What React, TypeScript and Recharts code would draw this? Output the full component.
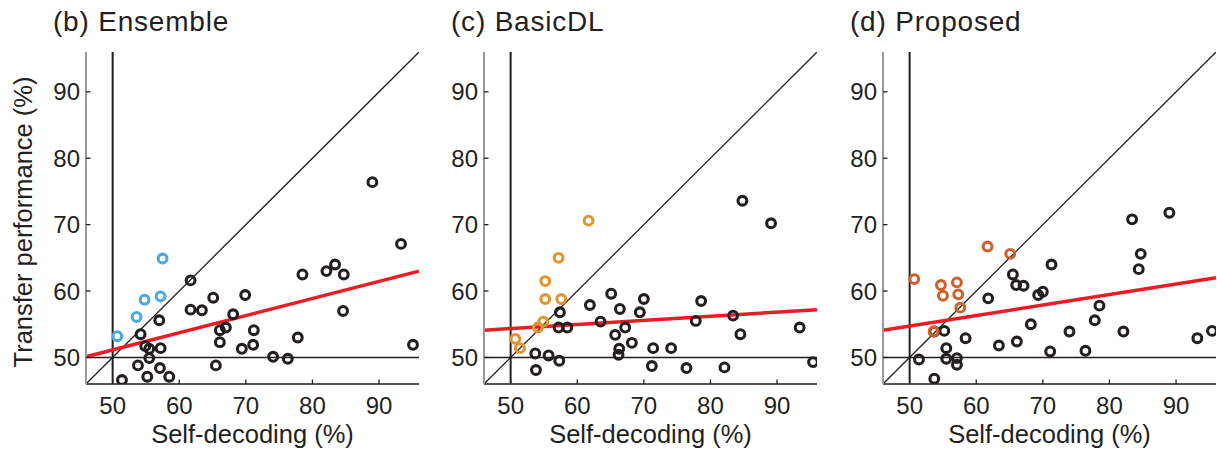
import { ScatterChart, Scatter, XAxis, YAxis, ReferenceLine } from 'recharts'

// [self-decoding, transfer] pairs
const ensembleBlack: [number, number][] = [
  [51.4, 46.6], [53.8, 48.8], [54.2, 53.5], [54.9, 51.7], [55.5, 51.3], [55.5, 49.9], [55.2, 47.1],
  [57.0, 55.6], [57.2, 51.4], [57.1, 48.4], [58.5, 47.1], [61.7, 61.6], [61.7, 57.2], [63.4, 57.1],
  [65.1, 59.0], [65.5, 48.8], [66.1, 54.1], [66.1, 52.3], [67.0, 54.5], [68.1, 56.5], [69.4, 51.3],
  [69.9, 59.4], [71.1, 51.9], [71.2, 54.1], [74.1, 50.1], [76.3, 49.8], [77.8, 53.0], [78.5, 62.5],
  [82.1, 63.0], [83.4, 64.0], [84.7, 62.5], [84.6, 57.0], [89.0, 76.4], [93.3, 67.1], [95.1, 51.9],
]
const ensembleHighlight: [number, number][] = [
  [50.7, 53.2], [53.6, 56.1], [54.8, 58.7], [57.2, 59.2], [57.5, 64.9],
]

const basicBlack: [number, number][] = [
  [84.8, 73.6], [89.1, 70.2], [65.1, 59.6], [70.0, 58.8], [78.6, 58.5], [61.9, 57.9], [66.4, 57.3],
  [57.4, 56.8], [69.4, 56.8], [83.4, 56.3], [63.5, 55.4], [77.8, 55.5], [57.2, 54.5], [58.5, 54.5],
  [67.2, 54.5], [93.4, 54.5], [65.7, 53.4], [84.5, 53.5], [68.2, 52.2], [71.4, 51.4], [74.1, 51.4],
  [66.3, 51.3], [66.2, 50.4], [53.7, 50.6], [55.7, 50.3], [57.3, 49.5], [53.8, 48.1], [71.2, 48.7],
  [76.4, 48.4], [82.1, 48.5], [95.4, 49.3],
]
const basicHighlight: [number, number][] = [
  [61.7, 70.6], [57.2, 65.0], [55.2, 61.5], [55.2, 58.8], [57.6, 58.8], [54.9, 55.4], [54.1, 54.5],
  [50.7, 52.8], [51.4, 51.4],
]

const proposedBlack: [number, number][] = [
  [89.0, 71.8], [83.4, 70.8], [84.7, 65.6], [84.4, 63.3], [71.3, 64.0], [65.5, 62.5], [66.0, 60.9],
  [67.1, 60.8], [70.0, 59.9], [69.3, 59.4], [61.8, 58.9], [78.5, 57.8], [77.8, 55.6], [68.2, 55.0],
  [74.0, 53.9], [82.1, 53.9], [95.4, 54.0], [93.2, 52.9], [55.2, 54.0], [53.7, 53.9], [58.4, 52.9],
  [63.4, 51.8], [66.1, 52.4], [55.5, 51.4], [55.5, 49.8], [57.1, 49.9], [57.1, 48.9], [51.4, 49.7],
  [53.7, 46.8], [71.1, 50.9], [76.4, 51.0],
]
const proposedHighlight: [number, number][] = [
  [50.7, 61.8], [61.7, 66.7], [65.1, 65.6], [54.7, 60.9], [55.0, 59.3], [57.1, 61.3], [57.3, 59.5],
  [57.6, 57.5], [53.6, 53.9],
]

// regression line: transfer value at x = 46 and x = 96
const fitEnsemble = [50.1, 63.0]
const fitBasic = [54.1, 57.2]
const fitProposed = [54.1, 62.0]

const ticks = [50, 60, 70, 80, 90]
const domain: [number, number] = [46, 96]

const FONT = '"Liberation Sans", Arial, Helvetica, sans-serif'
const INK = '#231f20'

const toRows = (pts: [number, number][]) => pts.map(([x, y]) => ({ x, y }))

const ring = (color: string) => (p: any) =>
  <circle cx={p.cx} cy={p.cy} r={4.4} fill="none" stroke={color} strokeWidth={3.1} />

const XTick = (p: any) => (
  <g>
    <line x1={p.x} x2={p.x} y1={p.y - 13} y2={p.y - 17.5} stroke={INK} strokeWidth={1.3} />
    <text x={p.x} y={p.y} dy="0.71em" textAnchor="middle" fontSize={24} fontFamily={FONT} fill={INK}>
      {p.payload.value}
    </text>
  </g>
)

const YTick = (p: any) => (
  <g>
    <line x1={p.x + 6} x2={p.x + 10.5} y1={p.y} y2={p.y} stroke={INK} strokeWidth={1.3} />
    <text x={p.x} y={p.y} dy="0.355em" textAnchor="end" fontSize={24} fontFamily={FONT} fill={INK}>
      {p.payload.value}
    </text>
  </g>
)

const xTitle = () => (
  <text x={252.5} y={443} textAnchor="middle" fontSize={25.5} fontFamily={FONT} fill={INK}>
    Self-decoding (%)
  </text>
)

const yTitle = () => (
  <text x={32} y={222} transform="rotate(-90 32 222)" textAnchor="middle" fontSize={25.5} fontFamily={FONT} fill={INK}>
    Transfer performance (%)
  </text>
)

function Panel({ left, title, black, highlight, color, fit, showYTitle }: {
  left: number
  title: string
  black: [number, number][]
  highlight: [number, number][]
  color: string
  fit: number[]
  showYTitle?: boolean
}) {
  return (
    <div style={{ position: 'absolute', left, top: 0, width: 420, height: 452 }}>
      <div style={{ position: 'absolute', left: 53, top: 8, fontSize: 28, lineHeight: '28px', letterSpacing: 0.8, fontFamily: FONT, color: INK, whiteSpace: 'nowrap' }}>
        {title}
      </div>
      <ScatterChart width={420} height={452} margin={{ top: 52, right: 1, bottom: 0, left: 26 }}>
        <XAxis type="number" dataKey="x" domain={domain} ticks={ticks} allowDataOverflow
          height={68} tickSize={0} tickMargin={13} tick={XTick}
          axisLine={{ stroke: '#555', strokeWidth: 2 }} label={xTitle} />
        <YAxis type="number" dataKey="y" domain={domain} ticks={ticks} allowDataOverflow
          width={60} tickSize={0} tickMargin={6} tick={YTick}
          axisLine={{ stroke: '#999', strokeWidth: 2 }} label={showYTitle ? yTitle : undefined} />
        <ReferenceLine segment={[{ x: 46, y: 46 }, { x: 96, y: 96 }]} stroke={INK} strokeWidth={1.3} ifOverflow="hidden" />
        <ReferenceLine x={50} stroke={INK} strokeWidth={2} />
        <ReferenceLine y={50} stroke={INK} strokeWidth={1.5} />
        <Scatter data={toRows(black)} shape={ring(INK)} isAnimationActive={false} />
        <Scatter data={toRows(highlight)} shape={ring(color)} isAnimationActive={false} />
        <ReferenceLine segment={[{ x: 46, y: fit[0] }, { x: 96, y: fit[1] }]} stroke="#ed1c24" strokeWidth={3.5} />
      </ScatterChart>
    </div>
  )
}

export default function App() {
  return (
    <div style={{ position: 'absolute', left: 0, top: 0, width: 1217, height: 452, background: '#fff' }}>
      <Panel left={0} title="(b) Ensemble" black={ensembleBlack} highlight={ensembleHighlight} color="#4aa9de" fit={fitEnsemble} showYTitle />
      <Panel left={398} title="(c) BasicDL" black={basicBlack} highlight={basicHighlight} color="#e0952e" fit={fitBasic} />
      <Panel left={797} title="(d) Proposed" black={proposedBlack} highlight={proposedHighlight} color="#cf6128" fit={fitProposed} />
    </div>
  )
}
